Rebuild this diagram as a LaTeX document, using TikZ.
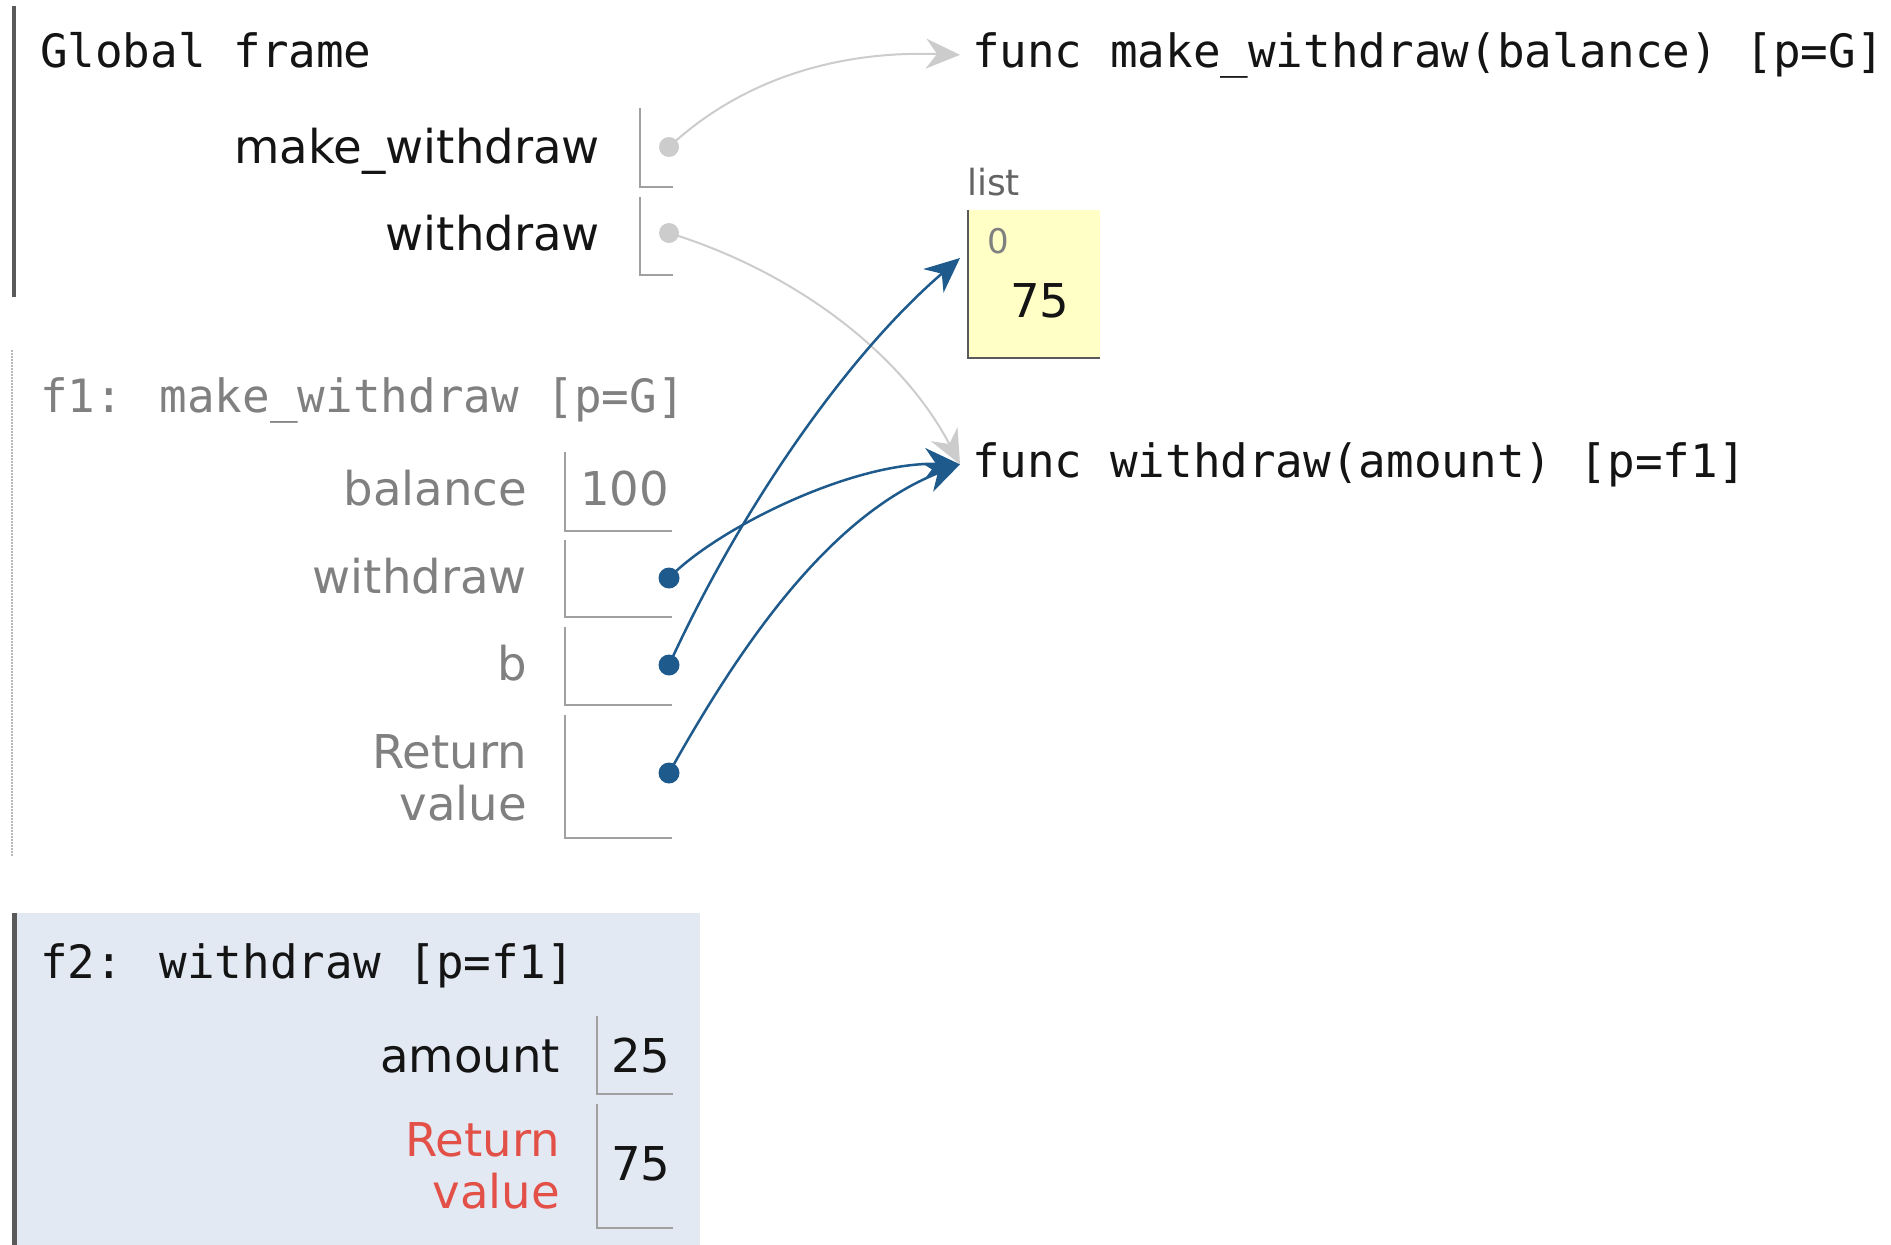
\documentclass[tikz,border=0pt]{standalone}
\usepackage{fontspec}
\setmainfont{DejaVu Sans}
\newfontfamily\codefont{DejaVu Sans Mono}
\usetikzlibrary{arrows.meta}
\definecolor{ptblue}{RGB}{31,90,140}
\definecolor{ptgrayarrow}{RGB}{204,204,204}
\definecolor{ptyellow}{RGB}{255,255,198}
\definecolor{ptfbg}{RGB}{226,233,243}
\definecolor{ptred}{RGB}{226,80,72}
\definecolor{ptbar}{RGB}{90,90,90}
\definecolor{ptcell}{RGB}{160,160,160}
\definecolor{ptfade}{RGB}{128,128,128}
\definecolor{ptdotted}{RGB}{185,185,185}
\definecolor{ptlisttxt}{RGB}{100,100,100}
\definecolor{pttext}{RGB}{20,20,20}
\begin{document}
\begin{tikzpicture}[x=1pt,y=-1pt,
  every node/.style={inner sep=0pt, outer sep=0pt, text=pttext},
  code/.style={font=\codefont\fontsize{45.9}{52}\selectfont},
  lbl/.style={font=\fontsize{46.6}{52}\selectfont},
  cellnode/.style={draw=none, anchor=north west},
  cellline/.style={draw=ptcell, line width=2pt},
  dotgray/.style={circle, fill=ptgrayarrow, minimum size=20pt},
  dotblue/.style={circle, fill=ptblue, minimum size=21pt},
  garrow/.style={draw=ptgrayarrow, line width=2pt, -{Stealth[length=34pt,width=30pt,inset=11pt]}},
  barrow/.style={draw=ptblue, line width=2.5pt, -{Stealth[length=35pt,width=31pt,inset=11pt]}}
]
\useasboundingbox (0,0) rectangle (1891,1245);

% ---------- Global frame ----------
\draw[line width=4pt, ptbar] (14,6) -- (14,297);
\node[code, anchor=base west] (gtitle) at (40,67) {Global frame};
\node[lbl, anchor=base east] (gl1) at (600,163) {make\_withdraw};
\node[lbl, anchor=base east] (gl2) at (600,250) {withdraw};
\node[cellnode, minimum width=33pt, minimum height=79pt] (gc1) at (640,108) {};
\node[cellnode, minimum width=33pt, minimum height=78pt] (gc2) at (640,197) {};
\draw[cellline] (gc1.north west) |- (gc1.south east);
\draw[cellline] (gc2.north west) |- (gc2.south east);

% ---------- heap objects ----------
\node[code, anchor=base west, inner xsep=12pt] (fmw) at (960,67) {func make\_withdraw(balance) [p=G]};
\node[code, anchor=base west, inner xsep=12pt] (fw) at (960,477) {func withdraw(amount) [p=f1]};
\node[font=\fontsize{36}{40}\selectfont, text=ptlisttxt, anchor=base west] (lstlbl) at (967,195) {list};
\node[fill=ptyellow, minimum width=132pt, minimum height=148pt, anchor=north west] (lst) at (968,210) {};
\draw[draw=ptbar, line width=2.5pt] (lst.north west) |- (lst.south east);
\node[font=\fontsize{34}{40}\selectfont, text=ptfade, anchor=base west] (lidx) at (987,253) {0};
\node[lbl, anchor=base west] (lval) at (1010,317) {75};
\coordinate (lsttip) at (960,258);

% ---------- f1 frame ----------
\draw[draw=ptdotted, line width=1.5pt, dash pattern=on 1.5pt off 1.5pt] (12,350) -- (12,857);
\node[code, text=ptfade, anchor=base west] (f1title) at (40,412) {f1: make\_withdraw [p=G]};
\node[lbl, text=ptfade, anchor=base east] (f1l1) at (527,505) {balance};
\node[lbl, text=ptfade, anchor=base east] (f1l2) at (527,593) {withdraw};
\node[lbl, text=ptfade, anchor=base east] (f1l3) at (527,680) {b};
\node[lbl, text=ptfade, anchor=north east, align=right] (f1l4) at (527,735) {Return\\value};
\node[cellnode, minimum width=107pt, minimum height=79pt] (c1) at (565,452) {};
\node[cellnode, minimum width=107pt, minimum height=77pt] (c2) at (565,540) {};
\node[cellnode, minimum width=107pt, minimum height=78pt] (c3) at (565,627) {};
\node[cellnode, minimum width=107pt, minimum height=123pt] (c4) at (565,715) {};
\draw[cellline] (c1.north west) |- (c1.south east);
\draw[cellline] (c2.north west) |- (c2.south east);
\draw[cellline] (c3.north west) |- (c3.south east);
\draw[cellline] (c4.north west) |- (c4.south east);
\node[lbl, text=ptfade, anchor=base west] (c1val) at (580,505) {100};

% ---------- f2 frame ----------
\fill[ptfbg] (12,913) rectangle (700,1245);
\draw[line width=5pt, ptbar] (14.5,913) -- (14.5,1245);
\node[code, anchor=base west] (f2title) at (40,978) {f2: withdraw [p=f1]};
\node[lbl, anchor=base east] (f2l1) at (560,1072) {amount};
\node[lbl, text=ptred, anchor=north east, align=right] (f2l2) at (560,1123) {Return\\value};
\node[cellnode, minimum width=76pt, minimum height=78pt] (d1) at (597,1016) {};
\node[cellnode, minimum width=76pt, minimum height=124pt] (d2) at (597,1104) {};
\draw[cellline] (d1.north west) |- (d1.south east);
\draw[cellline] (d2.north west) |- (d2.south east);
\node[lbl, anchor=base west] (d1val) at (611,1072) {25};
\node[lbl, anchor=base west] (d2val) at (611,1180) {75};

% ---------- pointers ----------
\coordinate (gp1) at (669,147);
\coordinate (gp2) at (669,233);
\coordinate (bp2) at (669,578);
\coordinate (bp3) at (669,665);
\coordinate (bp4) at (669,773);
\draw[garrow] (gp1) .. controls (730,90) and (820,50) .. (fmw.west);
\draw[garrow] (gp2) .. controls (790,270) and (900,350) .. (fw.west);
\draw[barrow] (bp2) .. controls (715,530) and (850,462) .. (fw.west);
\draw[barrow] (bp3) .. controls (740,510) and (846,356) .. (lsttip);
\draw[barrow] (bp4) .. controls (742,642) and (830,516) .. (fw.west);
\node[dotgray] (gd1) at (gp1) {};
\node[dotgray] (gd2) at (gp2) {};
\node[dotblue] (bd2) at (bp2) {};
\node[dotblue] (bd3) at (bp3) {};
\node[dotblue] (bd4) at (bp4) {};
\end{tikzpicture}
\end{document}
